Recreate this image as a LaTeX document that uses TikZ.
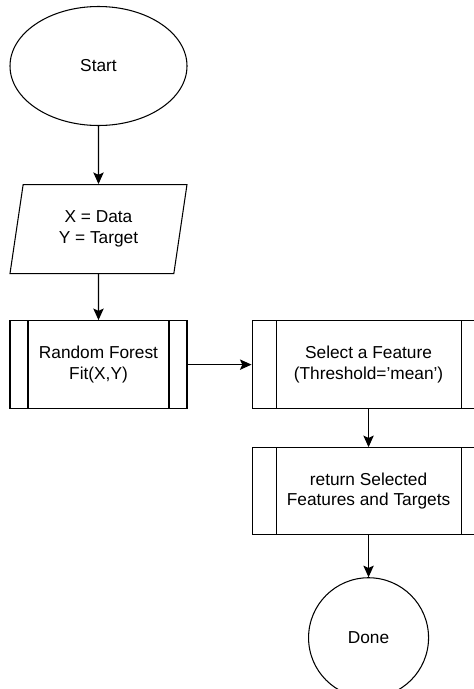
\documentclass[tikz,border=0pt]{standalone}
\usepackage{fontspec}
\setmainfont{Liberation Sans}
\usepackage{tikz}
\usetikzlibrary{arrows.meta,positioning,shapes.geometric}

\begin{document}
\begin{tikzpicture}[
  font=\fontsize{12.3}{14.7}\selectfont,
  line width=0.75pt,
  term/.style={draw, ellipse, align=center, inner sep=0pt},
  io/.style={draw, trapezium, trapezium left angle=70, trapezium right angle=110,
             trapezium stretches body, align=center, inner sep=0pt,
             minimum height=2.225cm, minimum width=4.425cm},
  proc/.style={draw, rectangle, align=center, inner sep=0pt, minimum height=2.2cm,
               path picture={
                 \draw[line width=0.75pt] ([xshift=#1]path picture bounding box.north west)
                   -- ([xshift=#1]path picture bounding box.south west);
                 \draw[line width=0.75pt] ([xshift=-#1]path picture bounding box.north east)
                   -- ([xshift=-#1]path picture bounding box.south east);}},
  ar/.style={-{Stealth[length=2.9mm, width=2.6mm, inset=0.6mm]}}
]
\useasboundingbox[fill=white] (0,0) rectangle (11.825,-17.225);

% ---- Left column --------------------------------------------------------
\node[term, minimum width=4.425cm, minimum height=2.975cm] (start) at (2.4625,-1.65) {Start};
\node[io, below=1.45cm of start] (data) {X = Data\\Y = Target};
\node[proc=0.45cm, minimum width=4.425cm, below=1.15cm of data] (rf)
  {Random Forest\\Fit(X,Y)};

% ---- Right column -------------------------------------------------------
\node[proc=0.6cm, minimum width=5.825cm, right=1.6cm of rf] (sel)
  {Select a Feature\\(Threshold='mean')};
\node[proc=0.6cm, minimum width=5.825cm, minimum height=2.175cm, below=0.95cm of sel] (ret)
  {return Selected\\Features and Targets};
\node[term, circle, minimum size=3cm, below=1.05cm of ret] (done) {Done};

% ---- Flow ---------------------------------------------------------------
\draw[ar] (start) -- (data);
\draw[ar] (data) -- (rf);
\draw[ar] (rf) -- (sel);
\draw[ar] (sel) -- (ret);
\draw[ar] (ret) -- (done);
\end{tikzpicture}
\end{document}
